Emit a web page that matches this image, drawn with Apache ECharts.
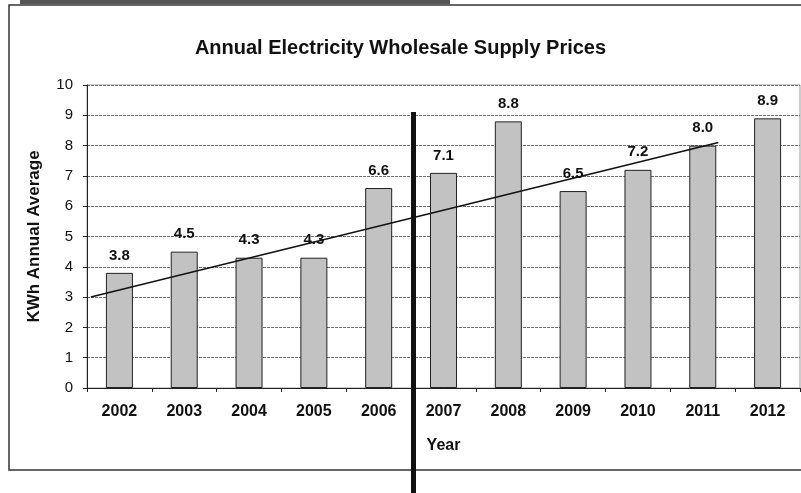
<!DOCTYPE html>
<html>
<head>
<meta charset="utf-8">
<script src="https://cdn.jsdelivr.net/npm/echarts@6/dist/echarts.min.js"></script>
<style>
  html, body { margin: 0; padding: 0; background: #fff; }
  #chart { width: 801px; height: 493px; }
</style>
</head>
<body>
<div id="chart"></div>
<script>
const years = ['2002', '2003', '2004', '2005', '2006', '2007', '2008', '2009', '2010', '2011', '2012']
const prices = [3.8, 4.5, 4.3, 4.3, 6.6, 7.1, 8.8, 6.5, 7.2, 8.0, 8.9]
// trend line ends, in category units (0 = 2002 centre)
const trendX = [-0.44, 9.24]
const trendY = [3.0, 8.1]

const font = 'Arial, "Liberation Sans", sans-serif'
const chart = echarts.init(document.getElementById('chart'))

chart.setOption({
  animation: false,
  title: {
    text: 'Annual Electricity Wholesale Supply Prices',
    left: 'center',
    top: 33,
    textStyle: { fontFamily: font, fontSize: 20, fontWeight: 'bold', color: '#111' }
  },
  grid: {
    left: 87, right: 1, top: 85, bottom: 105,
    show: true, borderColor: '#999', borderWidth: 1
  },
  xAxis: [{
    type: 'category',
    data: years,
    name: 'Year',
    nameLocation: 'middle',
    nameGap: 50,
    nameTextStyle: { fontFamily: font, fontSize: 16, fontWeight: 'bold', color: '#111' },
    axisLine: { onZero: false, lineStyle: { color: '#222', width: 1 } },
    axisTick: { show: true, inside: false, length: 4, lineStyle: { color: '#222' } },
    axisLabel: { fontFamily: font, fontSize: 16, fontWeight: 'bold', color: '#111', margin: 16 },
    splitLine: { show: false }
  }, {
    type: 'value',
    min: -0.5,
    max: 10.5,
    show: false,
    axisLine: { show: false, onZero: false },
    splitLine: { show: false }
  }],
  yAxis: {
    type: 'value',
    min: 0,
    max: 10,
    interval: 1,
    name: 'KWh Annual Average',
    nameLocation: 'middle',
    nameGap: 44,
    nameRotate: 90,
    nameTextStyle: { fontFamily: font, fontSize: 17, fontWeight: 'bold', color: '#111' },
    axisLine: { show: true, onZero: false, lineStyle: { color: '#222', width: 1 } },
    axisTick: { show: true, inside: false, length: 4, lineStyle: { color: '#222' } },
    axisLabel: { fontFamily: font, fontSize: 15, color: '#111', margin: 14 },
    splitLine: { show: true, lineStyle: { color: '#6f6f6f', width: 1, type: [3, 1] } }
  },
  series: [{
    type: 'bar',
    data: prices,
    barWidth: 27,
    itemStyle: { color: '#c2c2c2', borderColor: '#222', borderWidth: 1 },
    label: {
      show: true,
      position: 'top',
      distance: 10,
      formatter: (p) => p.value.toFixed(1),
      fontFamily: font, fontSize: 15, fontWeight: 'bold', color: '#111'
    },
    z: 2
  }, {
    type: 'line',
    xAxisIndex: 1,
    data: trendX.map((x, i) => [x, trendY[i]]),
    symbol: 'none',
    lineStyle: { color: '#111', width: 1.5 },
    z: 3
  }],
  graphic: [
    // page frame and scan artefacts
    { type: 'rect', shape: { x: 9, y: 5, width: 800, height: 465 }, style: { fill: 'none', stroke: '#333', lineWidth: 1.5 }, z: 10 },
    { type: 'rect', shape: { x: 20, y: 0, width: 430, height: 4 }, style: { fill: '#555' }, z: 10 },
    { type: 'rect', shape: { x: 411, y: 112, width: 5, height: 381 }, style: { fill: '#111' }, z: 20 }
  ]
})
</script>
</body>
</html>
